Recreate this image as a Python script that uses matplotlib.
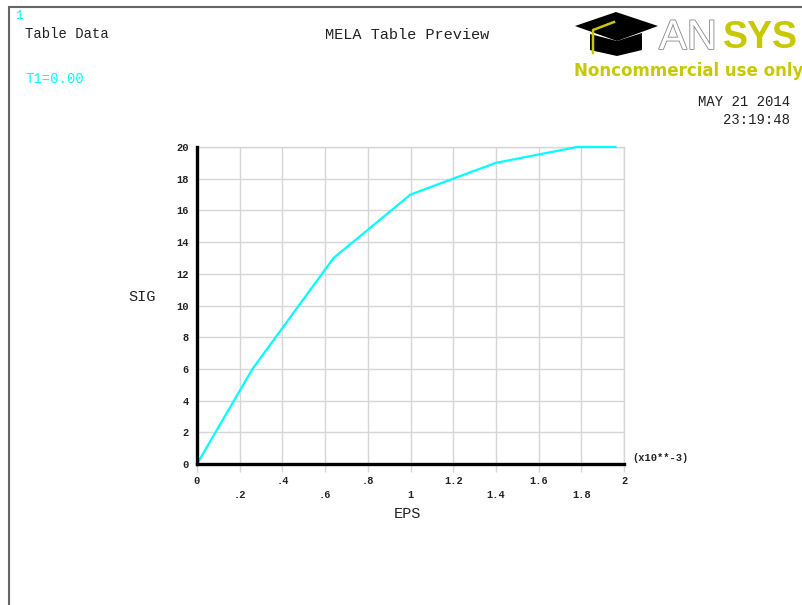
import matplotlib
matplotlib.use("Agg")
from matplotlib import pyplot as plt
from matplotlib import patches, transforms
import matplotlib.patheffects as pe

# table data (EPS in units of 1e-3)
eps = [0.0, 0.26, 0.64, 1.0, 1.4, 1.78, 1.96]
sig = [0, 6, 13, 17, 19, 20, 20]
xticks = [0, 0.2, 0.4, 0.6, 0.8, 1.0, 1.2, 1.4, 1.6, 1.8, 2.0]
xlabels = ["0", ".2", ".4", ".6", ".8", "1", "1.2", "1.4", "1.6", "1.8", "2"]
yticks = [0, 2, 4, 6, 8, 10, 12, 14, 16, 18, 20]

W, H = 802, 605
mono = "Liberation Mono"
cyan = "#00ffff"
yellow = "#c8c800"

fig = plt.figure(figsize=(W/100, H/100), dpi=100)

def fx(px):
    return px/W
def fy(py):
    return 1 - py/H

# outer frame
fig.add_artist(patches.Rectangle((fx(9), -0.1), 1.2, fy(7) + 0.1, transform=fig.transFigure,
                                 fill=False, edgecolor="#666666", linewidth=1.5))

ax = fig.add_axes([fx(197), fy(464), fx(624) - fx(197), fy(147) - fy(464)])
ax.plot(eps, sig, color=cyan, linewidth=1.6, zorder=3, clip_on=False)
ax.set_xlim(0, 2)
ax.set_ylim(0, 20)
ax.set_xticks(xticks)
ax.set_xticklabels(xlabels)
ax.set_yticks(yticks)
ax.grid(True, color="#d6d6d6", linewidth=1.0)
ax.set_axisbelow(True)
for s in ["top", "right"]:
    ax.spines[s].set_color("#d6d6d6")
    ax.spines[s].set_linewidth(1.0)
for s in ["left", "bottom"]:
    ax.spines[s].set_color("black")
    ax.spines[s].set_linewidth(2.4)
    ax.spines[s].set_zorder(4)
ax.tick_params(axis="x", length=6, color="#d6d6d6", width=1.0, pad=3)
ax.tick_params(axis="y", length=0, pad=6)
for lab in ax.get_xticklabels() + ax.get_yticklabels():
    lab.set_fontfamily(mono)
    lab.set_fontweight("bold")
    lab.set_fontsize(7.5)
    lab.set_color("#222222")
# stagger odd x labels one row down
off = transforms.ScaledTranslation(0, -14/100, fig.dpi_scale_trans)
for i, lab in enumerate(ax.get_xticklabels()):
    if i % 2 == 1:
        lab.set_transform(lab.get_transform() + off)

fig.text(fx(142), fy(297), "SIG", family=mono, fontsize=11, ha="center", va="center", color="#222222")
fig.text(fx(407), fy(514), "EPS", family=mono, fontsize=11, ha="center", va="center", color="#222222")
fig.text(fx(632), fy(458), "(x10**-3)", family=mono, fontsize=7.5, fontweight="bold", ha="left", va="center", color="#222222")

# header texts
fig.text(fx(15), fy(16), "1", family=mono, fontsize=9, color=cyan, ha="left", va="center")
fig.text(fx(25), fy(34), "Table Data", family=mono, fontsize=10, color="#222222", ha="left", va="center")
fig.text(fx(25), fy(79), "T1=0.00", family=mono, fontsize=10, color=cyan, ha="left", va="center")
fig.text(fx(407), fy(35), "MELA Table Preview", family=mono, fontsize=11, color="#222222", ha="center", va="center")
fig.text(fx(790), fy(102), "MAY 21 2014", family=mono, fontsize=10, color="#222222", ha="right", va="center")
fig.text(fx(790), fy(120), "23:19:48", family=mono, fontsize=10, color="#222222", ha="right", va="center")

# logo: mortarboard
board = [(575, 26), (616, 12), (658, 26), (617, 41)]
fig.add_artist(patches.Polygon([(fx(a), fy(b)) for a, b in board], closed=True,
                               transform=fig.transFigure, facecolor="black", edgecolor="none"))
body = [(590, 34), (617, 41), (642, 33), (642, 50), (617, 56), (590, 50)]
fig.add_artist(patches.Polygon([(fx(a), fy(b)) for a, b in body], closed=True,
                               transform=fig.transFigure, facecolor="black", edgecolor="none"))
fig.add_artist(plt.Line2D([fx(614), fx(593), fx(593)], [fy(22), fy(30), fy(53)],
                          transform=fig.transFigure, color=yellow, linewidth=1.8))
fig.text(fx(659), fy(38), "AN", family="Liberation Sans", fontsize=30, color="white", ha="left", va="center",
         path_effects=[pe.withStroke(linewidth=1.2, foreground="#888888")])
fig.text(fx(723), fy(38), "SYS", family="Liberation Sans", fontsize=27, fontweight="bold", color=yellow,
         ha="left", va="center")
fig.text(fx(574), fy(71), "Noncommercial use only", family="DejaVu Sans", fontsize=12, fontweight="bold",
         color=yellow, ha="left", va="center")

fig.savefig("out.png", dpi=100)
